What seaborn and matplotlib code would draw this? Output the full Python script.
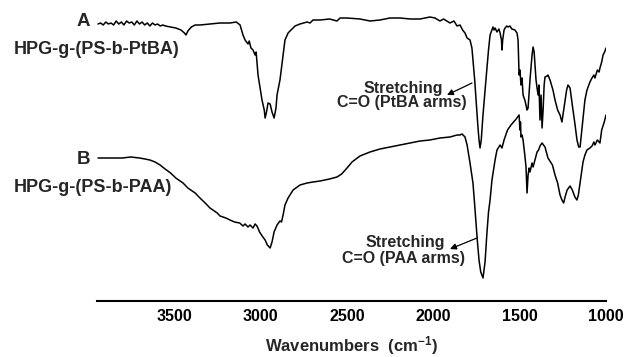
import numpy as np
import pandas as pd
import matplotlib
matplotlib.use("Agg")
import matplotlib.pyplot as plt
from matplotlib.ticker import MultipleLocator
import seaborn as sns

# ---- data (wavenumber in cm^-1, signal depth in arbitrary units; larger = deeper absorption)
wn_A = [3940, 3925, 3910, 3895, 3880, 3865, 3850, 3835, 3820, 3805, 3790, 3775, 3760, 3745,
        3730, 3715, 3700, 3685, 3670, 3655, 3640, 3625, 3610, 3595, 3580, 3565, 3550, 3520,
        3490, 3460, 3440, 3431, 3420, 3400, 3378, 3350, 3292, 3234, 3176, 3140, 3118, 3101,
        3089, 3072, 3065, 3055, 3043, 3031, 3025, 3014, 2991, 2978, 2973, 2965, 2956, 2944,
        2933, 2921, 2910, 2904, 2887, 2869, 2858, 2840, 2829, 2811, 2800, 2771, 2730, 2713,
        2696, 2655, 2600, 2557, 2539, 2499, 2424, 2366, 2308, 2250, 2192, 2134, 2076, 2019,
        1990, 1961, 1940, 1903, 1880, 1862, 1845, 1830, 1816, 1804, 1787, 1776, 1770, 1760,
        1752, 1742, 1735, 1729, 1722, 1712, 1700, 1690, 1680, 1671, 1660, 1654, 1648, 1642,
        1631, 1620, 1613, 1605, 1602, 1598, 1590, 1584, 1575, 1567, 1556, 1545, 1527, 1515,
        1509, 1503, 1498, 1492, 1486, 1480, 1470, 1463, 1457, 1451, 1440, 1428, 1422, 1416,
        1411, 1405, 1399, 1393, 1388, 1382, 1376, 1370, 1364, 1358, 1353, 1341, 1336, 1324,
        1307, 1295, 1280, 1266, 1255, 1245, 1237, 1228, 1220, 1208, 1195, 1179, 1168, 1158,
        1150, 1140, 1133, 1122, 1110, 1093, 1081, 1070, 1064, 1050, 1040, 1035, 1025, 1017,
        1008, 1000]
sig_A = [24, 23, 25, 22, 24, 23, 25, 21, 24, 22, 25, 21, 23, 22,
         25, 21, 24, 22, 25, 23, 26, 23, 25, 24, 26, 25, 26, 27,
         28, 30, 33, 35, 31, 27, 25, 25, 24, 23, 23, 22, 25, 35,
         40, 44, 41, 48, 50, 55, 52, 75, 100, 110, 118, 112, 103, 104,
         112, 118, 108, 95, 80, 55, 40, 33, 31, 28, 26, 24, 22, 23,
         20, 20, 19, 21, 18, 18, 19, 21, 20, 18, 18, 19, 19, 17,
         18, 21, 19, 23, 21, 26, 25, 30, 33, 38, 40, 48, 60, 80,
         100, 125, 140, 148, 140, 115, 90, 70, 50, 35, 30, 27, 30, 28,
         32, 29, 33, 40, 50, 40, 30, 28, 26, 27, 26, 29, 30, 33,
         40, 75, 70, 85, 78, 95, 100, 105, 110, 108, 80, 55, 47, 52,
         65, 80, 88, 95, 85, 120, 95, 128, 110, 85, 77, 76, 75, 80,
         90, 100, 110, 115, 122, 110, 100, 90, 85, 88, 105, 125, 140, 147,
         147, 130, 118, 100, 90, 82, 78, 75, 78, 70, 72, 68, 62, 55,
         52, 48]

wn_B = [3940, 3900, 3850, 3800, 3750, 3700, 3668, 3640, 3610, 3581, 3552, 3520, 3490, 3448,
        3420, 3378, 3350, 3320, 3292, 3250, 3234, 3200, 3176, 3150, 3120, 3101, 3089, 3072,
        3060, 3043, 3031, 3020, 3005, 2990, 2973, 2960, 2944, 2933, 2921, 2904, 2887, 2878,
        2869, 2858, 2840, 2811, 2771, 2730, 2696, 2655, 2600, 2557, 2530, 2499, 2470, 2424,
        2366, 2308, 2250, 2192, 2134, 2076, 2019, 1961, 1903, 1862, 1845, 1833, 1816, 1804,
        1787, 1770, 1760, 1745, 1735, 1725, 1712, 1700, 1690, 1680, 1671, 1660, 1642, 1631,
        1620, 1613, 1602, 1590, 1570, 1550, 1520, 1503, 1498, 1495, 1492, 1486, 1480, 1470,
        1463, 1457, 1451, 1445, 1440, 1428, 1422, 1411, 1399, 1390, 1382, 1370, 1353, 1336,
        1310, 1295, 1280, 1266, 1255, 1245, 1237, 1225, 1208, 1195, 1180, 1168, 1160, 1150,
        1133, 1122, 1110, 1093, 1081, 1070, 1064, 1050, 1035, 1025, 1010, 1000]
sig_B = [158, 158, 158, 158, 157, 158, 159, 160, 162, 165, 169, 173, 178, 183,
         188, 193, 198, 203, 208, 213, 216, 218, 220, 222, 223, 226, 224, 227,
         225, 228, 224, 226, 232, 236, 240, 245, 248, 242, 232, 225, 221, 222,
         215, 205, 198, 190, 185, 183, 182, 181, 179, 177, 174, 168, 162, 156,
         152, 149, 147, 145, 143, 141, 140, 138, 137, 135, 135, 134, 137, 145,
         163, 183, 205, 240, 260, 272, 278, 262, 235, 212, 200, 180, 160, 150,
         147, 145, 148, 140, 130, 125, 119, 115, 130, 122, 137, 135, 140, 155,
         167, 193, 175, 168, 172, 163, 167, 160, 152, 150, 146, 143, 147, 158,
         165, 175, 183, 195, 200, 203, 197, 190, 186, 190, 197, 200, 195, 183,
         162, 155, 150, 148, 146, 142, 145, 140, 143, 130, 122, 115]

major_ticks = [3500, 3000, 2500, 2000, 1500, 1000]

df = pd.concat([
    pd.DataFrame({"wn": wn_A, "sig": sig_A, "s": "A"}),
    pd.DataFrame({"wn": wn_B, "sig": sig_B, "s": "B"}),
])

sns.set_style("white")
plt.rcParams["font.family"] = ["Liberation Sans", "DejaVu Sans"]
plt.rcParams["font.weight"] = "bold"
plt.rcParams["mathtext.default"] = "regular"

W, H = 625, 357
fig = plt.figure(figsize=(W / 100, H / 100), dpi=100)
ax = fig.add_axes([97 / W, (H - 301) / H, (606 - 97) / W, 301 / H])

sns.lineplot(data=df, x="wn", y="sig", units="s", estimator=None, sort=False,
             color="black", lw=1.1, ax=ax, legend=False)

ax.set_xlim(3946, 1000)
ax.set_ylim(301, 0)
for sp in ["top", "left", "right"]:
    ax.spines[sp].set_visible(False)
ax.spines["bottom"].set_linewidth(1.5)
ax.spines["bottom"].set_color("black")
ax.set_yticks([])
ax.set_ylabel("")
ax.set_xticks(major_ticks)
ax.set_xticklabels([str(t) for t in major_ticks], fontsize=11.5, fontweight="bold")
ax.xaxis.set_minor_locator(MultipleLocator(250))
ax.tick_params(axis="x", which="major", direction="out", length=4, width=1.2, pad=2, colors="black")
ax.tick_params(axis="x", which="minor", direction="out", length=2.5, width=1.0, colors="black")
ax.set_xlabel("Wavenumbers  (cm$^{-1}$)", fontsize=12, fontweight="bold", labelpad=7)

def fx(px):
    return px / W

def fy(py):
    return 1 - py / H

fig.text(fx(83), fy(21), "A", fontsize=13.5, fontweight="bold", ha="center", va="center")
fig.text(fx(14), fy(50), "HPG-g-(PS-b-PtBA)", fontsize=13, fontweight="bold", ha="left", va="center")
fig.text(fx(83), fy(159), "B", fontsize=13.5, fontweight="bold", ha="center", va="center")
fig.text(fx(14), fy(188), "HPG-g-(PS-b-PAA)", fontsize=13, fontweight="bold", ha="left", va="center")

fs = 11.5
fig.text(fx(403), fy(88), "Stretching", fontsize=fs, fontweight="bold", ha="center", va="center")
fig.text(fx(402), fy(103), "C=O (PtBA arms)", fontsize=fs, fontweight="bold", ha="center", va="center")
fig.text(fx(405), fy(243), "Stretching", fontsize=fs, fontweight="bold", ha="center", va="center")
fig.text(fx(404), fy(259), "C=O (PAA arms)", fontsize=fs, fontweight="bold", ha="center", va="center")

arrow = dict(arrowstyle="-|>", lw=0.9, color="black", mutation_scale=9, shrinkA=0, shrinkB=0)
ax.annotate("", xy=(fx(447), fy(95)), xycoords="figure fraction",
            xytext=(fx(472), fy(83)), textcoords="figure fraction", arrowprops=arrow)
ax.annotate("", xy=(fx(450), fy(249)), xycoords="figure fraction",
            xytext=(fx(477), fy(238)), textcoords="figure fraction", arrowprops=arrow)

fig.savefig("out.png", dpi=100)
